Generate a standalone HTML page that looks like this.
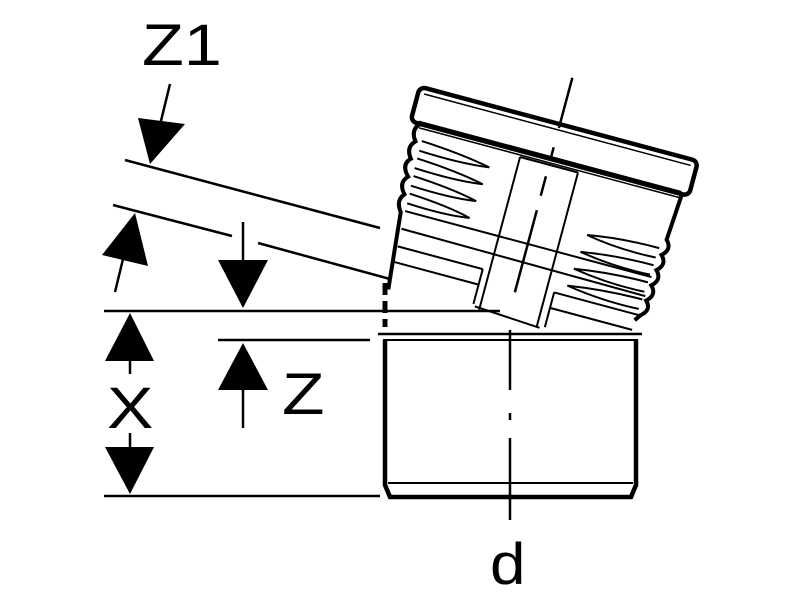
<!DOCTYPE html>
<html><head><meta charset="utf-8"><style>html,body{margin:0;padding:0;background:#fff}svg{display:block}</style></head>
<body>
<svg width="800" height="600" viewBox="0 0 800 600" xmlns="http://www.w3.org/2000/svg" font-family="Liberation Sans, sans-serif">
<g stroke="#000" fill="none" stroke-width="2.5">
  <line x1="125" y1="160" x2="380" y2="228"/>
  <line x1="113" y1="205" x2="232" y2="236"/>
  <line x1="258" y1="243" x2="390" y2="279"/>
  <line x1="104" y1="311" x2="500" y2="311"/>
  <line x1="104" y1="496" x2="380" y2="496"/>
  <line x1="218" y1="340" x2="370" y2="340"/>
  <line x1="170" y1="84" x2="160" y2="125"/>
  <line x1="115" y1="292" x2="124" y2="255"/>
  <line x1="243" y1="222" x2="243" y2="262"/>
  <line x1="130" y1="358" x2="130" y2="374"/>
  <line x1="130" y1="433" x2="130" y2="450"/>
  <line x1="243" y1="385" x2="243" y2="428"/>
</g>
<g fill="#000">
  <polygon points="138,118 185,124 150,164"/>
  <polygon points="135,213 102,255 148,266"/>
  <polygon points="218,260 268,260 243,308"/>
  <polygon points="130,313 105,361 154,361"/>
  <polygon points="105,447 154,447 130,494"/>
  <polygon points="243,343 218,390 268,390"/>
</g>
<g font-size="58" fill="#000">
  <text transform="translate(142,65) scale(1.18,1)">Z1</text>
  <text transform="translate(107,428) scale(1.2,1)">X</text>
  <text transform="translate(282,414) scale(1.2,1)">Z</text>
  <text transform="translate(490,584) scale(1.1,1)">d</text>
</g>
<g stroke="#000" fill="none">
  <path d="M385 340 L385 485 L390 497 L631 497 L636 485 L636 340" stroke-width="4.5"/>
  <line x1="378" y1="334" x2="642" y2="334" stroke-width="2.5"/>
  <line x1="383" y1="340" x2="638" y2="340" stroke-width="2"/>
  <line x1="388" y1="483" x2="633" y2="483" stroke-width="2"/>
  <line x1="385" y1="283" x2="385" y2="327" stroke-width="5" stroke-dasharray="12,6"/>
  <path d="M510 330 L510 390 M510 413 L510 420 M510 438 L510 520" stroke-width="2.5"/>
</g>
<g transform="translate(510,322) rotate(15)" stroke="#000" fill="none">
  <rect x="-148" y="-204" width="288" height="36" rx="6" stroke-width="4.5" fill="#fff"/>
  <line x1="-142" y1="-198" x2="134" y2="-198" stroke-width="1.5"/>
  <line x1="-140" y1="-170" x2="132" y2="-170" stroke-width="2"/>
  <line x1="-138" y1="-164" x2="132" y2="-164" stroke-width="1.5"/>
  <path d="M-138 -168 Q-146 -160 -138 -150 Q-146 -142 -138 -132 Q-146 -124 -136 -114 Q-144 -106 -135 -96 Q-142 -88 -134 -78 L-126 0" stroke-width="4"/>
  <path d="M133 -168 L130 -120 Q138 -112 129 -104 Q137 -96 128 -88 Q136 -80 127 -72 Q135 -64 126 -56 Q134 -48 124 -40 L120 -34" stroke-width="4"/>
  <g stroke-width="2">
    <path d="M-132 -152 Q-90 -150 -60 -144 Q-90 -140 -132 -142"/>
    <path d="M-132 -134 Q-90 -132 -62 -126 Q-90 -122 -132 -124"/>
    <path d="M-131 -116 Q-90 -114 -64 -108 Q-90 -104 -131 -106"/>
    <path d="M-130 -98 Q-90 -96 -66 -90 Q-90 -86 -130 -88"/>
    <path d="M125 -110 Q85 -110 52 -104 Q85 -98 124 -100"/>
    <path d="M124 -92 Q85 -92 50 -86 Q85 -80 123 -82"/>
    <path d="M123 -74 Q85 -74 48 -68 Q85 -62 122 -64"/>
    <path d="M122 -56 Q85 -56 46 -50 Q85 -44 121 -46"/>
    <line x1="-130" y1="-80" x2="125" y2="-80"/>
    <line x1="-129" y1="-62" x2="124" y2="-60"/>
    <line x1="-128" y1="-44" x2="-40" y2="-44"/>
    <line x1="-127" y1="-28" x2="-40" y2="-28"/>
    <line x1="-40" y1="-44" x2="-40" y2="-8"/>
    <line x1="35" y1="-40" x2="122" y2="-40"/>
    <line x1="35" y1="-24" x2="120" y2="-24"/>
    <line x1="35" y1="-40" x2="35" y2="-4"/>
    <line x1="-33" y1="-162" x2="-33" y2="-4"/>
    <line x1="27" y1="-162" x2="27" y2="-2"/>
    <line x1="-33" y1="-162" x2="27" y2="-162"/>
    <line x1="-38" y1="-6" x2="30" y2="-2"/>
  </g>
  <path d="M-3 -252 L-3 -200 M-3 -180 L-3 -168 M-3 -150 L-3 -130 M-3 -115 L-3 -30" stroke-width="2.5"/>
</g>
</svg>
</body></html>
